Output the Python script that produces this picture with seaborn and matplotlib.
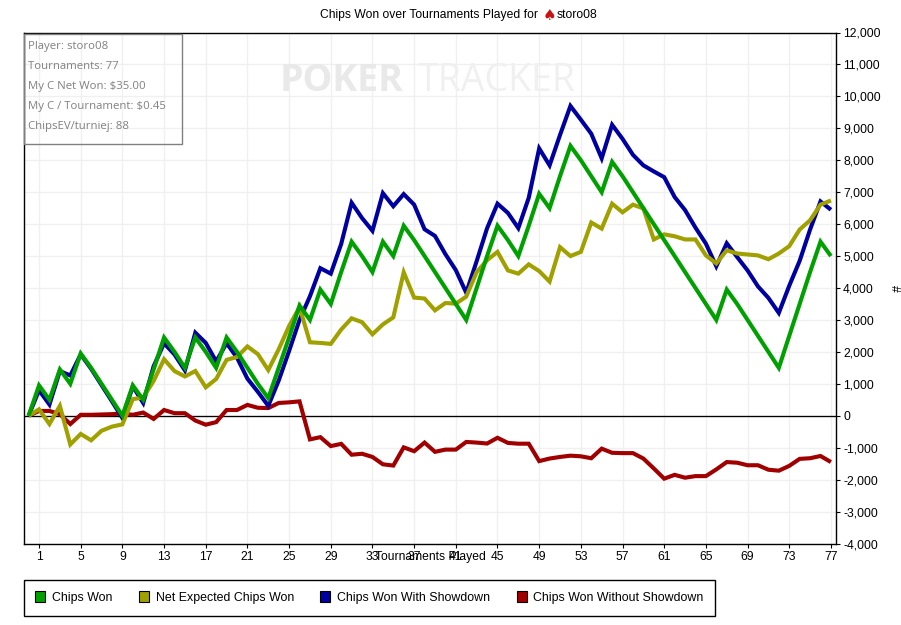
import matplotlib
matplotlib.use("Agg")
import matplotlib.pyplot as plt
from matplotlib.patches import Patch, Rectangle
from matplotlib.ticker import FuncFormatter
import pandas as pd
import seaborn as sns

tournaments = list(range(78))
chips_won = [0,950,500,1450,1000,1950,1500,1000,500,0,950,500,1450,2450,2000,1500,2450,2000,1500,2450,
             2000,1500,1000,550,1500,2450,3450,3000,3950,3500,4500,5450,5000,4500,5450,5000,5950,5500,5000,4500,
             4000,3500,3000,4000,5000,5950,5500,5000,5950,6950,6500,7500,8450,8000,7500,7000,7950,7500,7000,6500,
             6000,5500,5000,4500,4000,3500,3000,3950,3500,3000,2500,2000,1500,2500,3500,4500,5450,5000]
net_expected = [0,200,-260,310,-900,-570,-770,-470,-340,-270,520,570,1090,1770,1400,1230,1400,890,1150,1750,
                1840,2170,1930,1430,2080,2810,3400,2300,2280,2250,2700,3050,2930,2550,2860,3080,4490,3700,3670,3300,
                3530,3510,3730,4500,4870,5130,4550,4450,4740,4530,4200,5280,5000,5130,6050,5860,6640,6370,6610,6490,
                5520,5680,5620,5520,5520,5020,4770,5180,5080,5050,5020,4900,5080,5310,5830,6120,6610,6740]
with_showdown = [0,800,350,1400,1260,1920,1470,960,450,-70,920,400,1550,2270,1920,1420,2600,2280,1700,2270,
                 1820,1160,750,310,1100,2030,3000,3740,4620,4450,5380,6670,6190,5790,6970,6560,6940,6610,5840,5630,
                 5060,4560,3850,4840,5870,6640,6350,5875,6825,8370,7840,8790,9700,9270,8830,8060,9110,8670,8170,7840,
                 7650,7470,6850,6440,5890,5390,4680,5400,4970,4550,4050,3690,3220,4070,4850,5830,6710,6450]
without_showdown = [0,150,150,50,-260,30,30,40,50,70,30,100,-100,180,80,80,-150,-280,-200,180,
                    180,340,250,240,400,420,450,-740,-670,-950,-880,-1220,-1190,-1290,-1520,-1560,-990,-1110,-840,-1130,
                    -1060,-1060,-820,-840,-870,-690,-850,-875,-875,-1420,-1340,-1290,-1250,-1270,-1330,-1030,-1160,-1170,-1170,-1340,
                    -1650,-1970,-1850,-1940,-1890,-1890,-1680,-1450,-1470,-1550,-1550,-1690,-1720,-1570,-1350,-1330,-1260,-1450]

series_names = ["Chips Won", "Net Expected Chips Won", "Chips Won With Showdown", "Chips Won Without Showdown"]
colors = ["#00A000", "#A0A000", "#0000A0", "#A00000"]
x_ticks = list(range(1, 78, 4))
y_ticks = list(range(-4000, 12001, 1000))
info_lines = ["Player: storo08", "Tournaments: 77", "My C Net Won: $35.00", "My C / Tournament: $0.45", "ChipsEV/turniej: 88"]

sns.set_theme(style="white")
plt.rcParams["font.family"] = ["Liberation Sans", "DejaVu Sans"]

W, H = 901, 625
fig = plt.figure(figsize=(W / 100, H / 100), dpi=100, facecolor="white")
L, R, T, B = 23.5, 835.5, 32.5, 543.5
ax = fig.add_axes([L / W, 1 - B / H, (R - L) / W, (B - T) / H])

df = pd.DataFrame({"t": tournaments, series_names[0]: chips_won, series_names[1]: net_expected,
                   series_names[2]: with_showdown, series_names[3]: without_showdown})
for idx, z in zip([3, 2, 1, 0], [3, 4, 5, 6]):
    sns.lineplot(data=df, x="t", y=series_names[idx], color=colors[idx], linewidth=2.95, ax=ax,
                 zorder=z, solid_joinstyle="miter", solid_capstyle="butt", errorbar=None, estimator=None)

ax.set_xlim(-0.49, 77.44)
ax.set_ylim(-4000, 12000)
ax.set_xticks(x_ticks)
ax.set_yticks(y_ticks)
ax.yaxis.tick_right()
ax.yaxis.set_major_formatter(FuncFormatter(lambda v, p: f"{int(v):,}"))
ax.grid(True, color="#f0f0f0", linewidth=1)
ax.set_axisbelow(True)
ax.axhline(0, color="black", lw=0.95, zorder=2.5)
for s in ax.spines.values():
    s.set_visible(True)
    s.set_color("black")
    s.set_linewidth(1.0)
ax.tick_params(axis="both", which="major", length=3, width=0.8, color="black", labelsize=8.7,
               labelcolor="black", pad=2.5, bottom=True, right=True, left=False)
ax.set_xlabel("Tournaments Played", fontsize=8.7, labelpad=2, color="black")
ax.set_ylabel("")
ax.xaxis.set_label_coords((430 - L) / (R - L), -0.0255, )
ax.xaxis.label.set_va("center")

# y-axis symbol, title
fig.text(894 / W, 1 - 288 / H, "#", rotation=270, fontsize=8.7, ha="center", va="center", color="black")
fig.text(320 / W, 1 - 15 / H, "Chips Won over Tournaments Played for", fontsize=8.7, ha="left", va="center", color="black")
fig.text(549 / W, 1 - 15 / H, "♠", family="DejaVu Sans", fontsize=11, ha="center", va="center", color="#C81414")
fig.text(557 / W, 1 - 15 / H, "storo08", fontsize=8.7, ha="left", va="center", color="black")

# watermark
ax.text((280 - L) / (R - L), 1 - (81 - T) / (B - T), "POKER", transform=ax.transAxes, fontsize=27, fontweight="bold",
        family="Open Sans", color="#e9e9e9", ha="left", va="center", zorder=1)
ax.text((418 - L) / (R - L), 1 - (81 - T) / (B - T), "TRACKER", transform=ax.transAxes, fontsize=27,
        family="Open Sans", color="#f0f0f0", ha="left", va="center", zorder=1)

# info box
fig.add_artist(Rectangle((23.5 / W, 1 - 143.5 / H), 158 / W, 109.5 / H, transform=fig.transFigure,
                         fc="none", ec="#808080", lw=1.0, zorder=8))
for line, y in zip(info_lines, [46.5, 66.5, 86.5, 106.5, 126.5]):
    fig.text(28.5 / W, 1 - y / H, line, family="Open Sans", fontsize=8.2, color="#808080", ha="left", va="center", zorder=9)

# legend
handles = [Patch(facecolor=c, edgecolor="black", linewidth=0.8, label=n) for c, n in zip(colors, series_names)]
leg = fig.legend(handles=handles, loc="lower left", bbox_to_anchor=(23.5 / W, 1 - 615.5 / H), ncol=4, frameon=True,
                 fontsize=8.9, handlelength=0.8, handleheight=0.9, handletextpad=0.55, columnspacing=2.15,
                 borderpad=0.95, borderaxespad=0, fancybox=False, edgecolor="black", framealpha=1)
leg.get_frame().set_linewidth(1.0)
for t in leg.get_texts():
    t.set_color("black")

fig.savefig("out.png", dpi=100)
